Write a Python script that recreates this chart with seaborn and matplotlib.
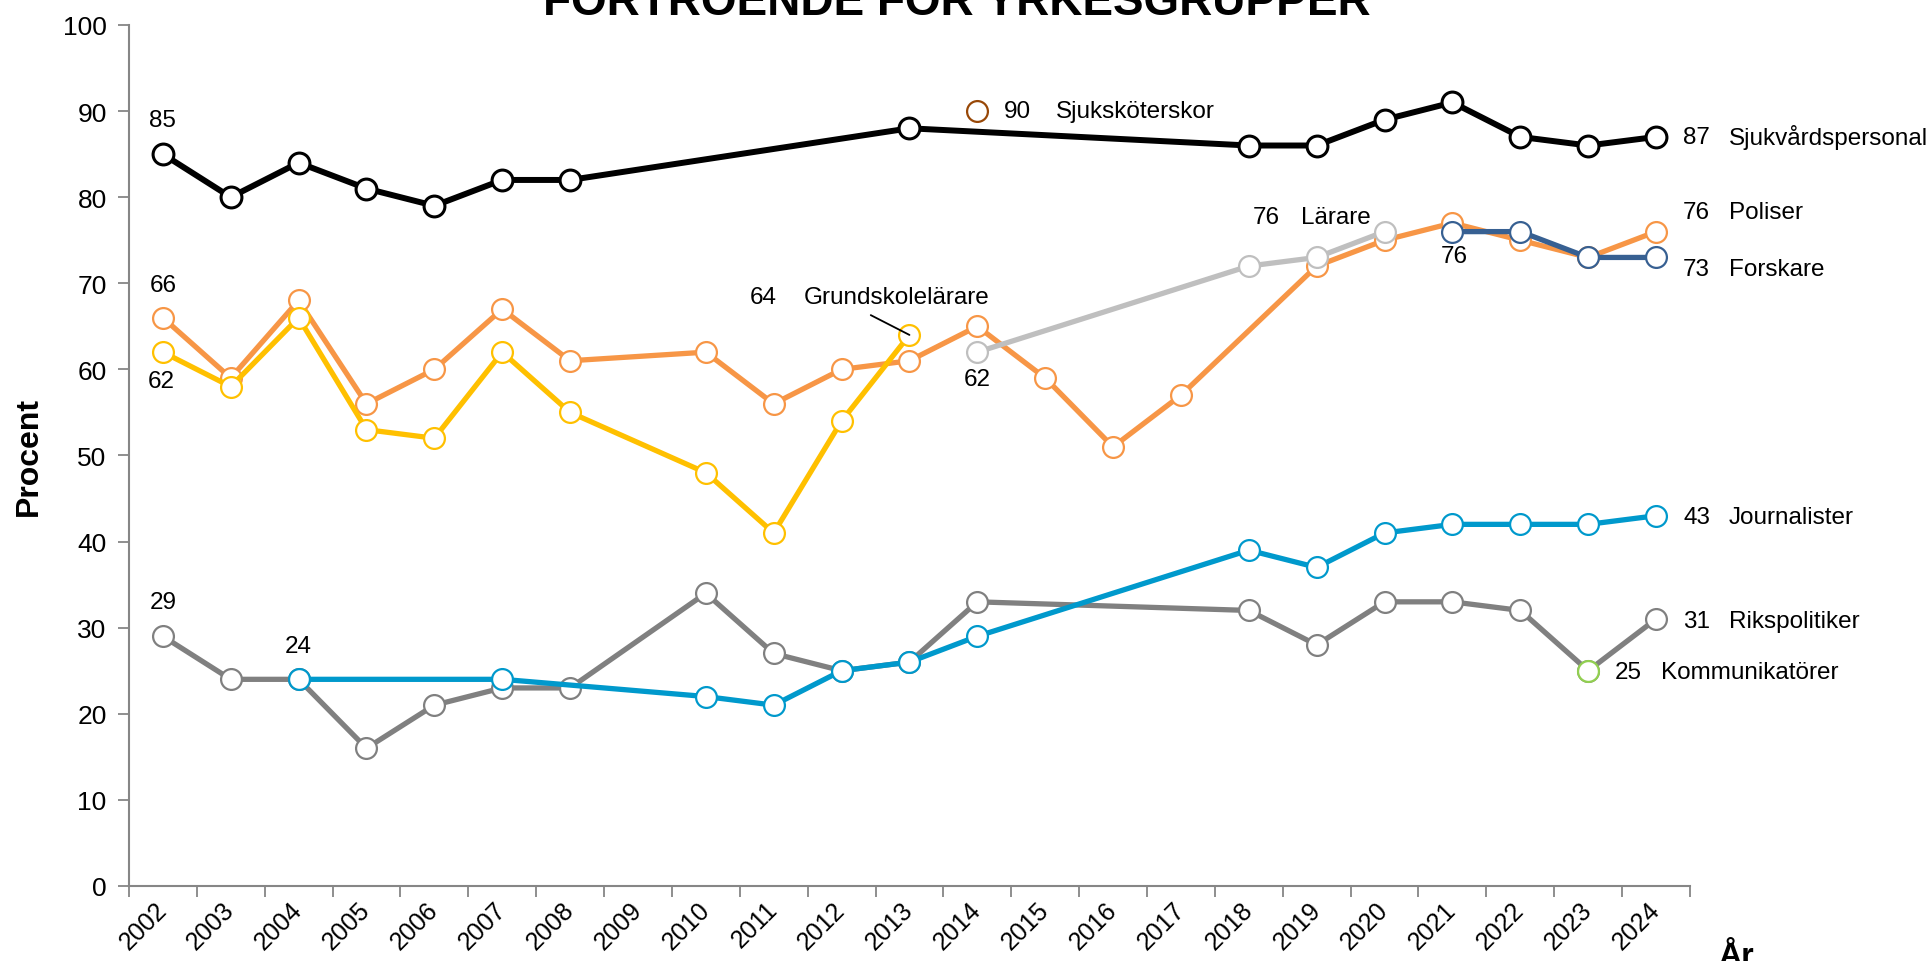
import numpy as np
import pandas as pd
import matplotlib
matplotlib.use("Agg")
import matplotlib.pyplot as plt
import seaborn as sns

# ---------------- data ----------------
years = list(range(2002, 2025))
N = np.nan
sjukvard = [85, 80, 84, 81, 79, 82, 82, N, N, N, N, 88, N, N, N, N, 86, 86, 89, 91, 87, 86, 87]
poliser = [66, 59, 68, 56, 60, 67, 61, N, 62, 56, 60, 61, 65, 59, 51, 57, N, 72, 75, 77, 75, 73, 76]
grundskol = [62, 58, 66, 53, 52, 62, 55, N, 48, 41, 54, 64, N, N, N, N, N, N, N, N, N, N, N]
larare = [N, N, N, N, N, N, N, N, N, N, N, N, 62, N, N, N, 72, 73, 76, N, N, N, N]
forskare = [N, N, N, N, N, N, N, N, N, N, N, N, N, N, N, N, N, N, N, 76, 76, 73, 73]
journalister = [N, N, 24, N, N, 24, N, N, 22, 21, 25, 26, 29, N, N, N, 39, 37, 41, 42, 42, 42, 43]
rikspolitiker = [29, 24, 24, 16, 21, 23, 23, N, 34, 27, 25, 26, 33, N, N, N, 32, 28, 33, 33, 32, 25, 31]
sjukskoterskor = [N] * 12 + [90] + [N] * 10
kommunikatorer = [N] * 21 + [25, N]

# ---------------- style ----------------
sns.set_style("white")
plt.rcParams["font.family"] = ["Liberation Sans", "DejaVu Sans"]
plt.rcParams["text.color"] = "black"
plt.rcParams["xtick.labelcolor"] = "black"
plt.rcParams["ytick.labelcolor"] = "black"

fig = plt.figure(figsize=(19.27, 9.62), dpi=100)
ax = fig.add_axes([0.0669, 0.078, 0.8101, 0.895])

series = [
    ("Rikspolitiker", rikspolitiker, "#808080"),
    ("Journalister", journalister, "#0099CC"),
    ("Poliser", poliser, "#F79646"),
    ("Grundskolelärare", grundskol, "#FFC000"),
    ("Lärare", larare, "#BFBFBF"),
    ("Forskare", forskare, "#376092"),
    ("Sjukvårdspersonal", sjukvard, "#000000"),
    ("Sjuksköterskor", sjukskoterskor, "#984807"),
    ("Kommunikatörer", kommunikatorer, "#92D050"),
]

data = {}
for z, (name, vals, col) in enumerate(series):
    df = pd.DataFrame({"pos": np.arange(len(years)), "year": years, "value": vals}).dropna()
    data[name] = df
    black = col == "#000000"
    sns.lineplot(data=df, x="pos", y="value", ax=ax, color=col,
                 linewidth=4.3 if black else 3.8,
                 marker="o", markersize=15, markerfacecolor="white",
                 markeredgecolor=col, markeredgewidth=2.2 if black else 1.6,
                 errorbar=None, zorder=3 + z)

def val(name, year):
    d = data[name]
    return int(d.loc[d["year"] == year, "value"].iloc[0])

def pos(year):
    return years.index(year)

fs = 17.5
# centred value labels (series, year, dx, dy)
centred = [
    ("Sjukvårdspersonal", 2002, 0.0, 4.0),
    ("Poliser", 2002, 0.0, 3.8),
    ("Grundskolelärare", 2002, -0.03, -3.3),
    ("Rikspolitiker", 2002, 0.0, 4.0),
    ("Journalister", 2004, 0.0, 3.9),
    ("Lärare", 2014, 0.0, -3.1),
    ("Forskare", 2021, 0.03, -2.8),
]
for name, yr, dx, dy in centred:
    ax.text(pos(yr) + dx, val(name, yr) + dy, str(val(name, yr)), ha="center",
            va="center", fontsize=fs, color="black", zorder=20)

# series name labels: (series, year, x of number, x of name, y)
named = [
    ("Sjukvårdspersonal", 2024, 22.40, 23.07, 87.0),
    ("Poliser", 2024, 22.40, 23.07, 78.3),
    ("Forskare", 2024, 22.40, 23.07, 71.7),
    ("Journalister", 2024, 22.40, 23.07, 42.9),
    ("Rikspolitiker", 2024, 22.40, 23.07, 30.8),
    ("Kommunikatörer", 2023, 21.39, 22.08, 24.8),
    ("Sjuksköterskor", 2014, 12.39, 13.16, 90.0),
    ("Grundskolelärare", 2013, 8.64, 9.45, 68.4),
    ("Lärare", 2020, 16.06, 16.77, 77.7),
]
for name, yr, xn, xl, y in named:
    ax.text(xn, y, str(val(name, yr)), ha="left", va="center", fontsize=fs,
            color="black", zorder=20)
    ax.text(xl, y, name, ha="left", va="center", fontsize=fs, color="black",
            zorder=20)

# leader line for Grundskolelärare
gx, gy = pos(2013), val("Grundskolelärare", 2013)
ax.annotate("", xy=(gx, gy), xytext=(gx - 0.57, gy + 2.3),
            arrowprops=dict(arrowstyle="-", color="black", lw=1.3,
                            shrinkA=0, shrinkB=0), zorder=30)

# ---------------- axes ----------------
ax.set_xlim(-0.5, len(years) - 0.5)
ax.set_ylim(0, 100)
ax.set_yticks(range(0, 101, 10))
ax.set_xticks(np.arange(-0.5, len(years), 1.0))
ax.set_xticklabels([])
ax.set_xticks(np.arange(len(years)), minor=True)
ax.set_xticklabels([str(y) for y in years], minor=True, rotation=45,
                   ha="right", va="center", rotation_mode="anchor")
ax.tick_params(axis="x", which="major", length=8, width=1.3, color="#868686",
               direction="out", bottom=True)
ax.tick_params(axis="x", which="minor", length=0, pad=14, labelsize=18,
               labelcolor="black")
ax.tick_params(axis="y", which="major", length=8, width=1.3, color="#868686",
               direction="out", left=True, pad=8, labelsize=19,
               labelcolor="black")
for s in ["top", "right"]:
    ax.spines[s].set_visible(False)
for s in ["left", "bottom"]:
    ax.spines[s].set_color("#868686")
    ax.spines[s].set_linewidth(1.5)
ax.set_xlabel("")
ax.set_ylabel("")

fig.text(0.015, 0.525, "Procent", rotation=90, ha="center", va="center",
         fontsize=23, fontweight="bold", color="black")
fig.text(0.8915, -0.003, "År", ha="left", va="baseline", fontsize=23,
         fontweight="bold", color="black")
fig.text(0.4966, 0.9844, "FÖRTROENDE FÖR YRKESGRUPPER", ha="center",
         va="baseline", fontsize=33, fontweight="bold", color="black")

fig.savefig("out.png", dpi=100)
